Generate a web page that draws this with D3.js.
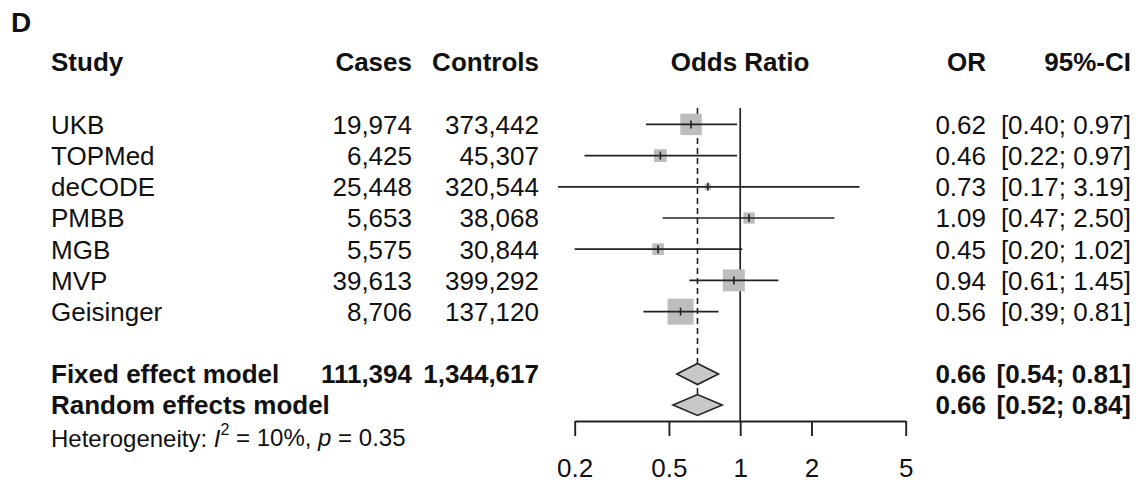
<!DOCTYPE html>
<html><head><meta charset="utf-8">
<script src="https://cdn.jsdelivr.net/npm/d3@7"></script>
<style>
body{margin:0;background:#fff;}
text{font-family:"Liberation Sans",Arial,Helvetica,sans-serif;fill:#111;}
</style></head>
<body><svg id="c" width="1136" height="483"></svg>
<script>
const studies = ["UKB","TOPMed","deCODE","PMBB","MGB","MVP","Geisinger"];
const cases = [19974,6425,25448,5653,5575,39613,8706];
const controls = [373442,45307,320544,38068,30844,399292,137120];
const orVals = [0.62,0.46,0.73,1.09,0.45,0.94,0.56];
const lower = [0.40,0.22,0.17,0.47,0.20,0.61,0.39];
const upper = [0.97,0.97,3.19,2.50,1.02,1.45,0.81];
const weights = [22.0,7.8,2.0,6.2,6.5,23.0,32.4];
const modelNames = ["Fixed effect model","Random effects model"];
const modelOR = [0.66,0.66];
const modelLower = [0.54,0.52];
const modelUpper = [0.81,0.84];
const totalCases = 111394, totalControls = 1344617;
const axisTicks = [0.2,0.5,1,2,5];

const svg = d3.select("#c");
const fmtN = d3.format(",");
const fmt2 = d3.format(".2f");
const FS = 26;

const x = d3.scaleLog().domain([0.2,5]).range([574.7,905.7]);
const row = d3.scaleLinear().domain([0,1]).range([62,93.2]);
const size = d3.scaleSqrt().domain([0,1]).range([0,4.57]);

svg.append("text").attr("x",11).attr("y",32).attr("font-size",28).attr("font-weight","bold").text("D");

const colL = 51, colCases = 412, colCtrl = 539, colOR = 986, colCI = 1131, colPlot = 740;
function txt(xx,yy,s,anchor,bold,fs){
  return svg.append("text").attr("x",xx).attr("y",yy).attr("dy","0.36em")
    .attr("font-size",fs||FS).attr("font-weight",bold?"bold":"normal")
    .attr("text-anchor",anchor).text(s);
}
// header
const hy = row(0);
txt(colL,hy,"Study","start",true);
txt(colCases,hy,"Cases","end",true);
txt(colCtrl,hy,"Controls","end",true);
txt(colPlot,hy,"Odds Ratio","middle",true);
txt(colOR,hy,"OR","end",true);
txt(colCI,hy,"95%-CI","end",true);

// reference lines
svg.append("line").attr("x1",x(1)).attr("x2",x(1)).attr("y1",108).attr("y2",421)
  .attr("stroke","#222").attr("stroke-width",1.7);
svg.append("line").attr("x1",x(modelOR[0])).attr("x2",x(modelOR[0])).attr("y1",108).attr("y2",405)
  .attr("stroke","#222").attr("stroke-width",1.6).attr("stroke-dasharray","6,4");

studies.forEach((s,i)=>{
  const yy = row(i+2);
  txt(colL,yy,s,"start",false);
  txt(colCases,yy,fmtN(cases[i]),"end",false);
  txt(colCtrl,yy,fmtN(controls[i]),"end",false);
  txt(colOR,yy,fmt2(orVals[i]),"end",false);
  txt(colCI,yy,"["+fmt2(lower[i])+"; "+fmt2(upper[i])+"]","end",false);
  const sz = size(weights[i]);
  svg.append("rect").attr("x",x(orVals[i])-sz/2).attr("y",yy-sz/2).attr("width",sz).attr("height",sz)
    .attr("fill","#bdbdbd");
  svg.append("line").attr("x1",x(lower[i])).attr("x2",x(upper[i])).attr("y1",yy).attr("y2",yy)
    .attr("stroke","#222").attr("stroke-width",1.7);
  svg.append("line").attr("x1",x(orVals[i])).attr("x2",x(orVals[i])).attr("y1",yy-4).attr("y2",yy+4)
    .attr("stroke","#222").attr("stroke-width",1.6);
});

modelNames.forEach((m,i)=>{
  const yy = i===0 ? 374 : 405;
  txt(colL,yy,m,"start",true);
  if(i===0){
    txt(colCases,yy,fmtN(totalCases),"end",true);
    txt(colCtrl,yy,fmtN(totalControls),"end",true);
  }
  txt(colOR,yy,fmt2(modelOR[i]),"end",true);
  txt(colCI,yy,"["+fmt2(modelLower[i])+"; "+fmt2(modelUpper[i])+"]","end",true);
  const h = 10.5;
  const pts = [[x(modelLower[i]),yy],[x(modelOR[i]),yy-h],[x(modelUpper[i]),yy],[x(modelOR[i]),yy+h]];
  svg.append("path").attr("d","M"+pts.map(p=>p.join(",")).join("L")+"Z")
    .attr("fill","#c8c8c8").attr("stroke","#222").attr("stroke-width",1.6);
});

// heterogeneity
const het = svg.append("text").attr("x",colL).attr("y",438).attr("dy","0.36em").attr("font-size",24);
het.append("tspan").text("Heterogeneity: ");
het.append("tspan").attr("font-style","italic").text("I");
het.append("tspan").attr("font-size",16).attr("dy","-0.7em").text("2");
het.append("tspan").attr("dy","0.45em").text(" = 10%, ");
het.append("tspan").attr("font-style","italic").text("p");
het.append("tspan").text(" = 0.35");

// axis
const ax = svg.append("g").attr("transform","translate(0,421)")
  .call(d3.axisBottom(x).tickValues(axisTicks).tickFormat(d=>String(d)).tickSize(15).tickSizeOuter(0).tickPadding(23));
ax.select(".domain").attr("stroke","#222").attr("stroke-width",1.9);
ax.selectAll(".tick line").attr("stroke","#222").attr("stroke-width",1.9);
ax.selectAll(".tick text").attr("font-size",FS).attr("font-family","Liberation Sans, Arial, sans-serif").attr("fill","#111");
</script></body></html>
